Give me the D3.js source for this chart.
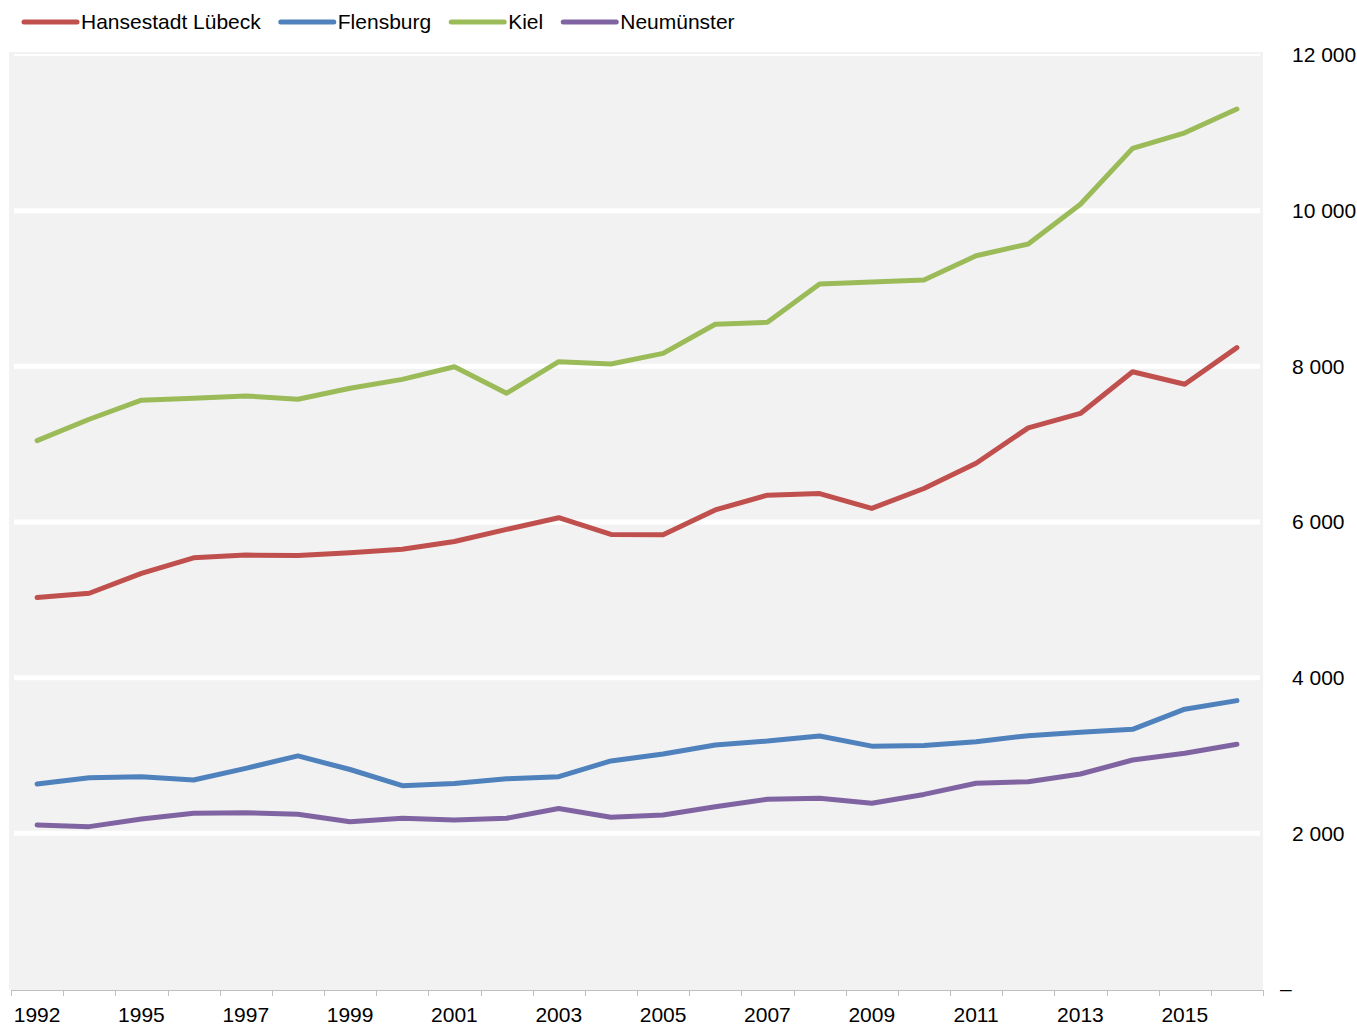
<!DOCTYPE html>
<html>
<head>
<meta charset="utf-8">
<script src="https://cdn.jsdelivr.net/npm/d3@7"></script>
<style>
  body { margin: 0; background: #fff; }
  svg text { font-family: "Liberation Sans", Arial, sans-serif; fill: #000; }
</style>
</head>
<body>
<div id="chart"></div>
<script>
// categories (first gap year 1993 is missing in the source)
let years = ["1992", "1994", "1995", "1996", "1997", "1998", "1999", "2000", "2001", "2002", "2003", "2004",
  "2005", "2006", "2007", "2008", "2009", "2010", "2011", "2012", "2013", "2014", "2015", "2016"];

let luebeck = [5030, 5085, 5340, 5540, 5575, 5570, 5605, 5650, 5750, 5905, 6055, 5840,
  5835, 6155, 6345, 6365, 6175, 6430, 6755, 7210, 7395, 7930, 7770, 8240];
let flensburg = [2635, 2715, 2728, 2685, 2835, 2995, 2820, 2612, 2640, 2700, 2728, 2930,
  3020, 3135, 3185, 3250, 3120, 3128, 3178, 3255, 3298, 3336, 3595, 3705];
let kiel = [7045, 7320, 7565, 7590, 7620, 7578, 7718, 7832, 7995, 7655, 8060, 8030,
  8167, 8540, 8565, 9058, 9083, 9108, 9420, 9572, 10082, 10800, 11000, 11306];
let neumuenster = [2107, 2086, 2184, 2257, 2265, 2244, 2150, 2193, 2171, 2193, 2320, 2206,
  2236, 2342, 2437, 2450, 2386, 2500, 2643, 2663, 2762, 2942, 3028, 3144];

let seriesNames = ["Hansestadt Lübeck", "Flensburg", "Kiel", "Neumünster"];
let seriesColors = ["#c0504d", "#4f81bd", "#9bbb59", "#8064a2"];
let yTicks = [0, 2000, 4000, 6000, 8000, 10000, 12000];

let series = [luebeck, flensburg, kiel, neumuenster].map(function(vals, i) {
  return { name: seriesNames[i], color: seriesColors[i], values: vals };
});

let width = 1357, height = 1025;
let svg = d3.select("#chart").append("svg").attr("width", width).attr("height", height);

let x = d3.scaleBand().domain(years).range([11, 1263]).paddingInner(0).paddingOuter(0);
let y = d3.scaleLinear().domain([0, 12000]).range([989, 55]);

// plot background
svg.append("rect")
  .attr("x", 9).attr("y", 52)
  .attr("width", 1254).attr("height", 938)
  .attr("fill", "#f2f2f2");

// gridlines
svg.selectAll("line.grid")
  .data(yTicks.filter(function(d) { return d > 0; }))
  .enter().append("line")
  .attr("class", "grid")
  .attr("x1", 14).attr("x2", 1260)
  .attr("y1", function(d) { return y(d); })
  .attr("y2", function(d) { return y(d); })
  .attr("stroke", "#fff")
  .attr("stroke-width", function(d) { return d === 12000 ? 2 : 5; });

// x axis line and boundary ticks
svg.append("line")
  .attr("x1", x.range()[0]).attr("x2", x.range()[1])
  .attr("y1", 990.5).attr("y2", 990.5)
  .attr("stroke", "#bfbfbf").attr("stroke-width", 1);

let bounds = years.map(function(d) { return x(d); }).concat([x.range()[1]]);
svg.selectAll("line.xtick")
  .data(bounds)
  .enter().append("line")
  .attr("class", "xtick")
  .attr("x1", function(d) { return Math.round(d) + 0.5; })
  .attr("x2", function(d) { return Math.round(d) + 0.5; })
  .attr("y1", 990).attr("y2", 996)
  .attr("stroke", "#bfbfbf");

// x labels, every second category
let xAxis = d3.axisBottom(x)
  .tickValues(years.filter(function(d, i) { return i % 2 === 0; }))
  .tickSize(0)
  .tickPadding(17);

let gx = svg.append("g").attr("transform", "translate(0,990)").call(xAxis);
gx.select(".domain").remove();
gx.selectAll("text").attr("font-size", 21).attr("fill", "#000")
  .style("font-family", "'Liberation Sans', Arial, sans-serif");

// y axis on the right
let fmt = function(d) {
  if (d === 0) return "–";
  return d3.format(",")(d).replace(/,/g, " ");
};
let yAxis = d3.axisRight(y).tickValues(yTicks).tickFormat(fmt).tickSize(0).tickPadding(0);
let gy = svg.append("g").attr("transform", "translate(1292,0)").call(yAxis);
gy.select(".domain").remove();
gy.selectAll("text").attr("font-size", 21).attr("fill", "#000")
  .style("font-family", "'Liberation Sans', Arial, sans-serif")
  .attr("dx", function(d) { return d === 0 ? -12 : 0; });

// lines
let line = d3.line()
  .x(function(d, i) { return x(years[i]) + x.bandwidth() / 2; })
  .y(function(d) { return y(d); });

svg.selectAll("path.series")
  .data(series)
  .enter().append("path")
  .attr("class", "series")
  .attr("d", function(d) { return line(d.values); })
  .attr("fill", "none")
  .attr("stroke", function(d) { return d.color; })
  .attr("stroke-width", 5)
  .attr("stroke-linejoin", "round")
  .attr("stroke-linecap", "round");

// legend
let lx = 24;
series.forEach(function(s) {
  let g = svg.append("g");
  g.append("line")
    .attr("x1", lx).attr("x2", lx + 53)
    .attr("y1", 22).attr("y2", 22)
    .attr("stroke", s.color).attr("stroke-width", 5)
    .attr("stroke-linecap", "round");
  let t = g.append("text")
    .attr("x", lx + 57).attr("y", 29)
    .attr("font-size", 21)
    .text(s.name);
  lx = lx + 57 + t.node().getComputedTextLength() + 20;
});
</script>
</body>
</html>
